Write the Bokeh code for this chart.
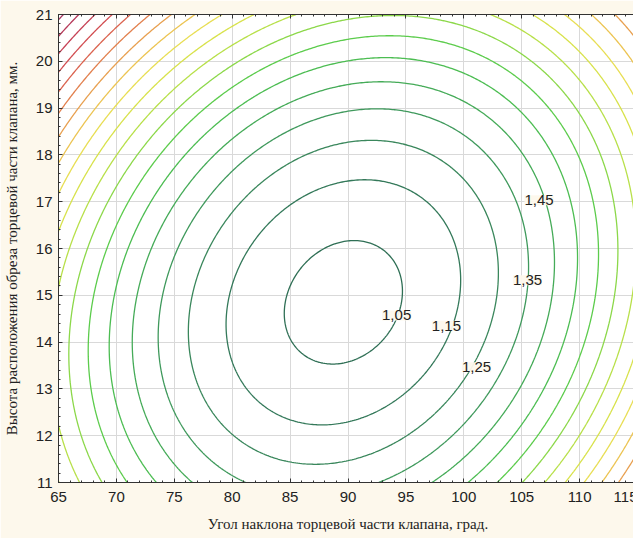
import numpy as np
from bokeh.plotting import figure
from bokeh.models import ColumnDataSource, LabelSet, LinearAxis, FixedTicker, Range1d
from bokeh.core.properties import value
from bokeh.embed import file_html
from bokeh.resources import INLINE

# Fitted response surface (second-order model)
X0 = 89.6        # angle at the minimum, deg
Y0 = 14.85       # height at the minimum, mm
Z_MIN = 1.016    # value at the minimum
A_XX = 0.00135
A_YY = 0.0202
A_XY = -0.00189

levels = [1.05, 1.15, 1.25, 1.35, 1.45, 1.55, 1.65, 1.75, 1.85, 1.95,
          2.05, 2.15, 2.25, 2.35, 2.45, 2.55, 2.65, 2.75, 2.85]
level_colors = ["#2f6f55", "#34795a", "#3a875c", "#3f995c", "#45ab58",
                "#4cbd52", "#5ccc4c", "#8cd84a", "#b8e04a", "#d8e24c",
                "#e8de54", "#ecc452", "#e8a050", "#e2804e", "#db6450",
                "#d24e52", "#c64256", "#b63a5a", "#a6345e"]

label_x = [94.2, 98.5, 101.1, 105.5, 106.5]
label_y = [14.57, 14.35, 13.46, 15.32, 17.03]
label_text = ["1,05", "1,15", "1,25", "1,35", "1,45"]

x_ticks = [65, 70, 75, 80, 85, 90, 95, 100, 105, 110, 115]
y_ticks = [11, 12, 13, 14, 15, 16, 17, 18, 19, 20, 21]

x_title = "Угол наклона торцевой части клапана, град."
y_title = "Высота расположения обреза торцевой части клапана, мм."

CREAM = "#fdf8ec"
INK = "#222222"

gx = np.linspace(65, 115, 301)
gy = np.linspace(11, 21, 301)
GX, GY = np.meshgrid(gx, gy)
GZ = (Z_MIN + A_XX * (GX - X0) ** 2 + A_YY * (GY - Y0) ** 2
      + A_XY * (GX - X0) * (GY - Y0))

p = figure(frame_width=579, frame_height=468,
           x_range=Range1d(65, 115), y_range=Range1d(11, 21),
           output_backend="svg", toolbar_location=None,
           min_border_left=57, min_border_right=0,
           min_border_top=14, min_border_bottom=56,
           background_fill_color="white", border_fill_color=CREAM,
           outline_line_color="#333333")

bottom = p.xaxis[0]
left = p.yaxis[0]

p.contour(gx, gy, GZ, levels=levels, line_color=level_colors, line_width=1.3)

src = ColumnDataSource(dict(x=label_x, y=label_y, t=label_text))
p.add_layout(LabelSet(x="x", y="y", text="t", source=src,
                      text_align="center", text_baseline="middle",
                      text_font=value("Liberation Sans"), text_font_size="15px",
                      text_color=INK, background_fill_color=CREAM,
                      background_fill_alpha=0.95))

minor_x = list(range(65, 116))
minor_y = [round(11 + 0.2 * i, 1) for i in range(51)]

bottom.ticker = FixedTicker(ticks=x_ticks, minor_ticks=minor_x)
left.ticker = FixedTicker(ticks=y_ticks, minor_ticks=minor_y)

top = LinearAxis(ticker=FixedTicker(ticks=x_ticks, minor_ticks=minor_x),
                 major_label_text_font_size="1px",
                 major_label_text_color=None, major_label_standoff=0)
p.add_layout(top, "above")

for ax in [bottom, left, top]:
    ax.axis_line_color = "#333333"
    ax.major_tick_in = 4
    ax.major_tick_out = 0
    ax.minor_tick_in = 2
    ax.minor_tick_out = 0
    ax.major_tick_line_color = "#333333"
    ax.minor_tick_line_color = "#333333"

for ax in [bottom, left]:
    ax.major_label_text_font = "Liberation Sans"
    ax.major_label_text_font_size = "15px"
    ax.major_label_text_color = INK
    ax.axis_label_text_font = "Liberation Serif"
    ax.axis_label_text_font_size = "15px"
    ax.axis_label_text_font_style = "normal"
    ax.axis_label_text_color = INK

bottom.axis_label = x_title
bottom.major_label_standoff = 9
bottom.axis_label_standoff = 11
left.axis_label = y_title
left.major_label_standoff = 6
left.axis_label_standoff = 13

p.xgrid.grid_line_color = "#d9d9d9"
p.ygrid.grid_line_color = "#d9d9d9"

html = file_html(p, INLINE, title="contour")
html = html.replace("<body>", '<body style="background-color:%s; overflow:hidden;">' % CREAM, 1)
open("out.html", "w").write(html)
